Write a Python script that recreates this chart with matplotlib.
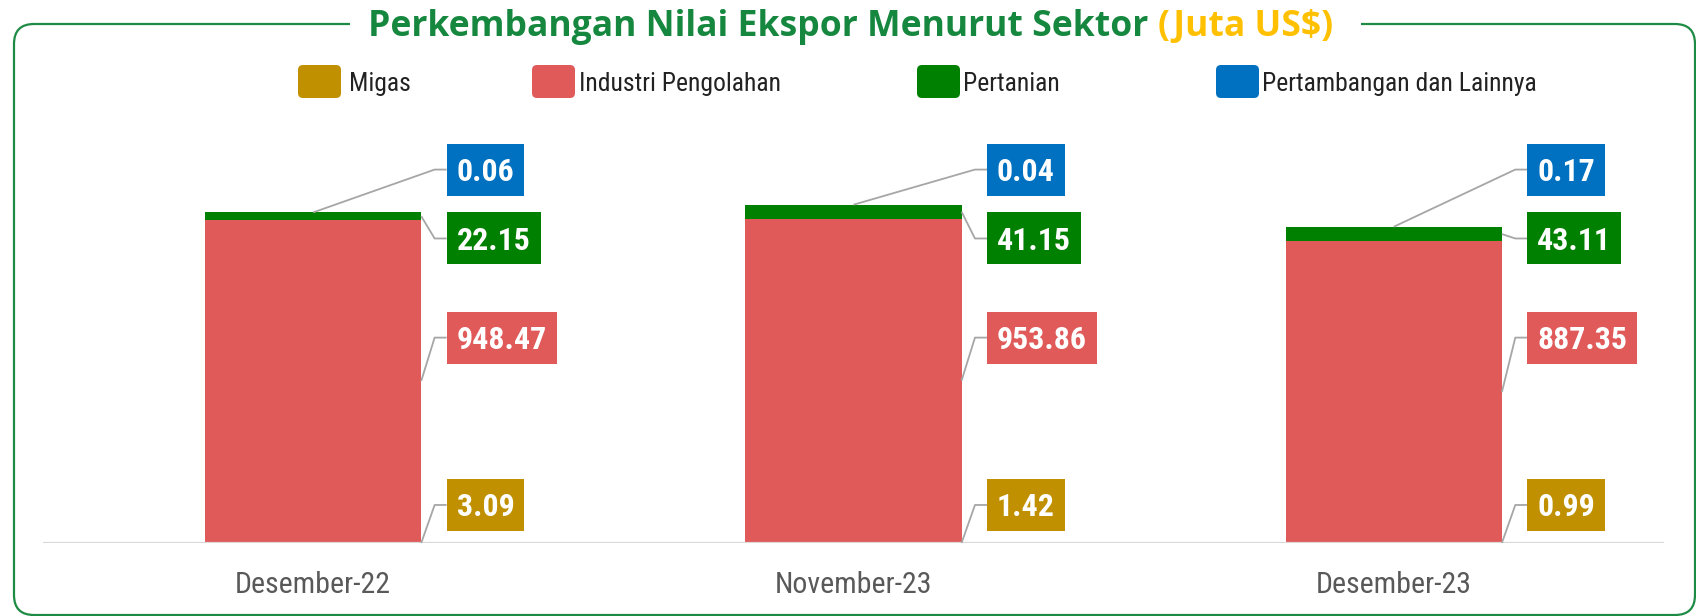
import numpy as np
import matplotlib.pyplot as plt
import matplotlib.font_manager as fm
from matplotlib.patches import FancyBboxPatch, Rectangle
from matplotlib.transforms import IdentityTransform

# data (Juta US$)
categories = ['Desember-22', 'November-23', 'Desember-23']
sectors = ['Migas', 'Industri Pengolahan', 'Pertanian', 'Pertambangan dan Lainnya']
migas = [3.09, 1.42, 0.99]
industri = [948.47, 953.86, 887.35]
pertanian = [22.15, 41.15, 43.11]
tambang = [0.06, 0.04, 0.17]
colors = ['#C09000', '#E05A5A', '#008000', '#0070C0']

installed = {f.name for f in fm.fontManager.ttflist}


def pick(*names):
    for n in names:
        if n in installed:
            return n
    return 'DejaVu Sans'


NARROW = pick('Roboto Condensed', 'Liberation Sans Narrow', 'Arial Narrow', 'Roboto')
TITLE_FONT = pick('Open Sans', 'Noto Sans')

W, H = 1696, 616
fig = plt.figure(figsize=(W / 100, H / 100), dpi=100)
ax = fig.add_axes([43 / W, (H - 543) / H, (1664 - 43) / W, (543 - 120) / H])
ax.set_xlim(-0.5, 2.5)
ax.set_ylim(0, 1246)
ppx = 1621 / 3.0      # pixels per x unit
ppy = 423 / 1246.0    # pixels per y unit
renderer = fig.canvas.get_renderer()


def fit(t, target):
    w = t.get_window_extent(renderer).width
    t.set_fontsize(t.get_fontsize() * target / w)
    return t.get_fontsize()


series = [migas, industri, pertanian, tambang]
x = np.arange(len(categories))
bottom = np.zeros(len(categories))
for vals, c in zip(series, colors):
    ax.bar(x, vals, width=0.4, bottom=bottom, color=c, zorder=2)
    bottom = bottom + np.array(vals)
cum = np.cumsum(np.array(series), axis=0)

ax.axhline(0, color='#d9d9d9', lw=1.6, zorder=3)
for s in ax.spines.values():
    s.set_visible(False)
ax.set_yticks([])
ax.set_xticks(x, categories)
ax.tick_params(axis='x', length=0, pad=36, colors='#595959')
for lab in ax.get_xticklabels():
    lab.set_fontfamily(NARROW)
    lab.set_va('baseline')
    lab.set_fontsize(20)
tick_size = fit(ax.get_xticklabels()[0], 156)
for lab in ax.get_xticklabels():
    lab.set_fontsize(tick_size)

# value label sizing
probe = ax.text(0, 0, '948.47', fontsize=24, fontweight='bold', family=NARROW)
val_size = fit(probe, 90)
probe.remove()
cap = 0.715 * val_size * 100 / 72  # px

rows_y = [112, 605, 897, 1100]
box_off = 0.247
elbow = 12 / ppx
pad_x = 10 / ppx
box_h = 52 / ppy
labels = []
for i in range(len(categories)):
    starts = [(i + 0.2, 0),
              (i + 0.2, migas[i] + industri[i] / 2),
              (i + 0.2, cum[1][i] + pertanian[i] / 2),
              (i, cum[3][i])]
    for k in range(4):
        sx, sy = starts[k]
        ly = rows_y[k]
        bx = i + box_off
        ax.plot([sx, bx - elbow, bx], [sy, ly, ly], color='#a6a6a6', lw=1.3,
                zorder=3, clip_on=False, solid_capstyle='butt')
        t = ax.text(bx + pad_x, ly - cap / 2 / ppy, f'{series[k][i]:.2f}',
                    color='white', fontsize=val_size, fontweight='bold',
                    family=NARROW, ha='left', va='baseline', zorder=6)
        labels.append((t, bx, ly, colors[k]))

fig.canvas.draw()
for t, bx, ly, c in labels:
    w = t.get_window_extent(renderer).width / ppx
    ax.add_patch(Rectangle((bx, ly - box_h / 2), w + 2 * pad_x, box_h,
                           fc=c, ec='none', zorder=5, clip_on=False))

# frame
ident = IdentityTransform()
fig.add_artist(FancyBboxPatch((14, 1), 1681, H - 1 - 24, boxstyle='round,pad=0,rounding_size=20',
                              transform=ident, fill=False, ec='#1E8B45', lw=1.6, zorder=1))
fig.add_artist(Rectangle((350, H - 40), 1011, 30, transform=ident, fc='white', ec='none', zorder=2))

# title
t1 = fig.text(368, H - 36, 'Perkembangan Nilai Ekspor Menurut Sektor ', transform=ident,
              color='#16873E', fontsize=24, fontweight='bold', family=TITLE_FONT,
              va='baseline', zorder=3)
t2 = fig.text(0, H - 36, '(Juta US$)', transform=ident, color='#FFC000', fontsize=24,
              fontweight='bold', family=TITLE_FONT, va='baseline', zorder=3)
w1 = t1.get_window_extent(renderer).width
w2 = t2.get_window_extent(renderer).width
ts = 24 * 966 / (w1 + w2)
t1.set_fontsize(ts)
t2.set_fontsize(ts)
w1 = t1.get_window_extent(renderer).width
t2.set_position((368 + w1, H - 36))

# legend
leg_sq = [298, 532, 917, 1216]
leg_tx = [349, 579, 963, 1262]
leg_texts = []
for name, c, sqx, tx in zip(sectors, colors, leg_sq, leg_tx):
    fig.add_artist(FancyBboxPatch((sqx, H - 98), 43, 33, boxstyle='round,pad=0,rounding_size=5',
                                  transform=ident, fc=c, ec='none'))
    leg_texts.append(fig.text(tx, H - 91, name, transform=ident, color='#222222',
                              fontsize=18, family=NARROW, va='baseline'))
ls = fit(leg_texts[1], 202)
for lt in leg_texts:
    lt.set_fontsize(ls)

fig.savefig('out.png', dpi=100, facecolor='white')
